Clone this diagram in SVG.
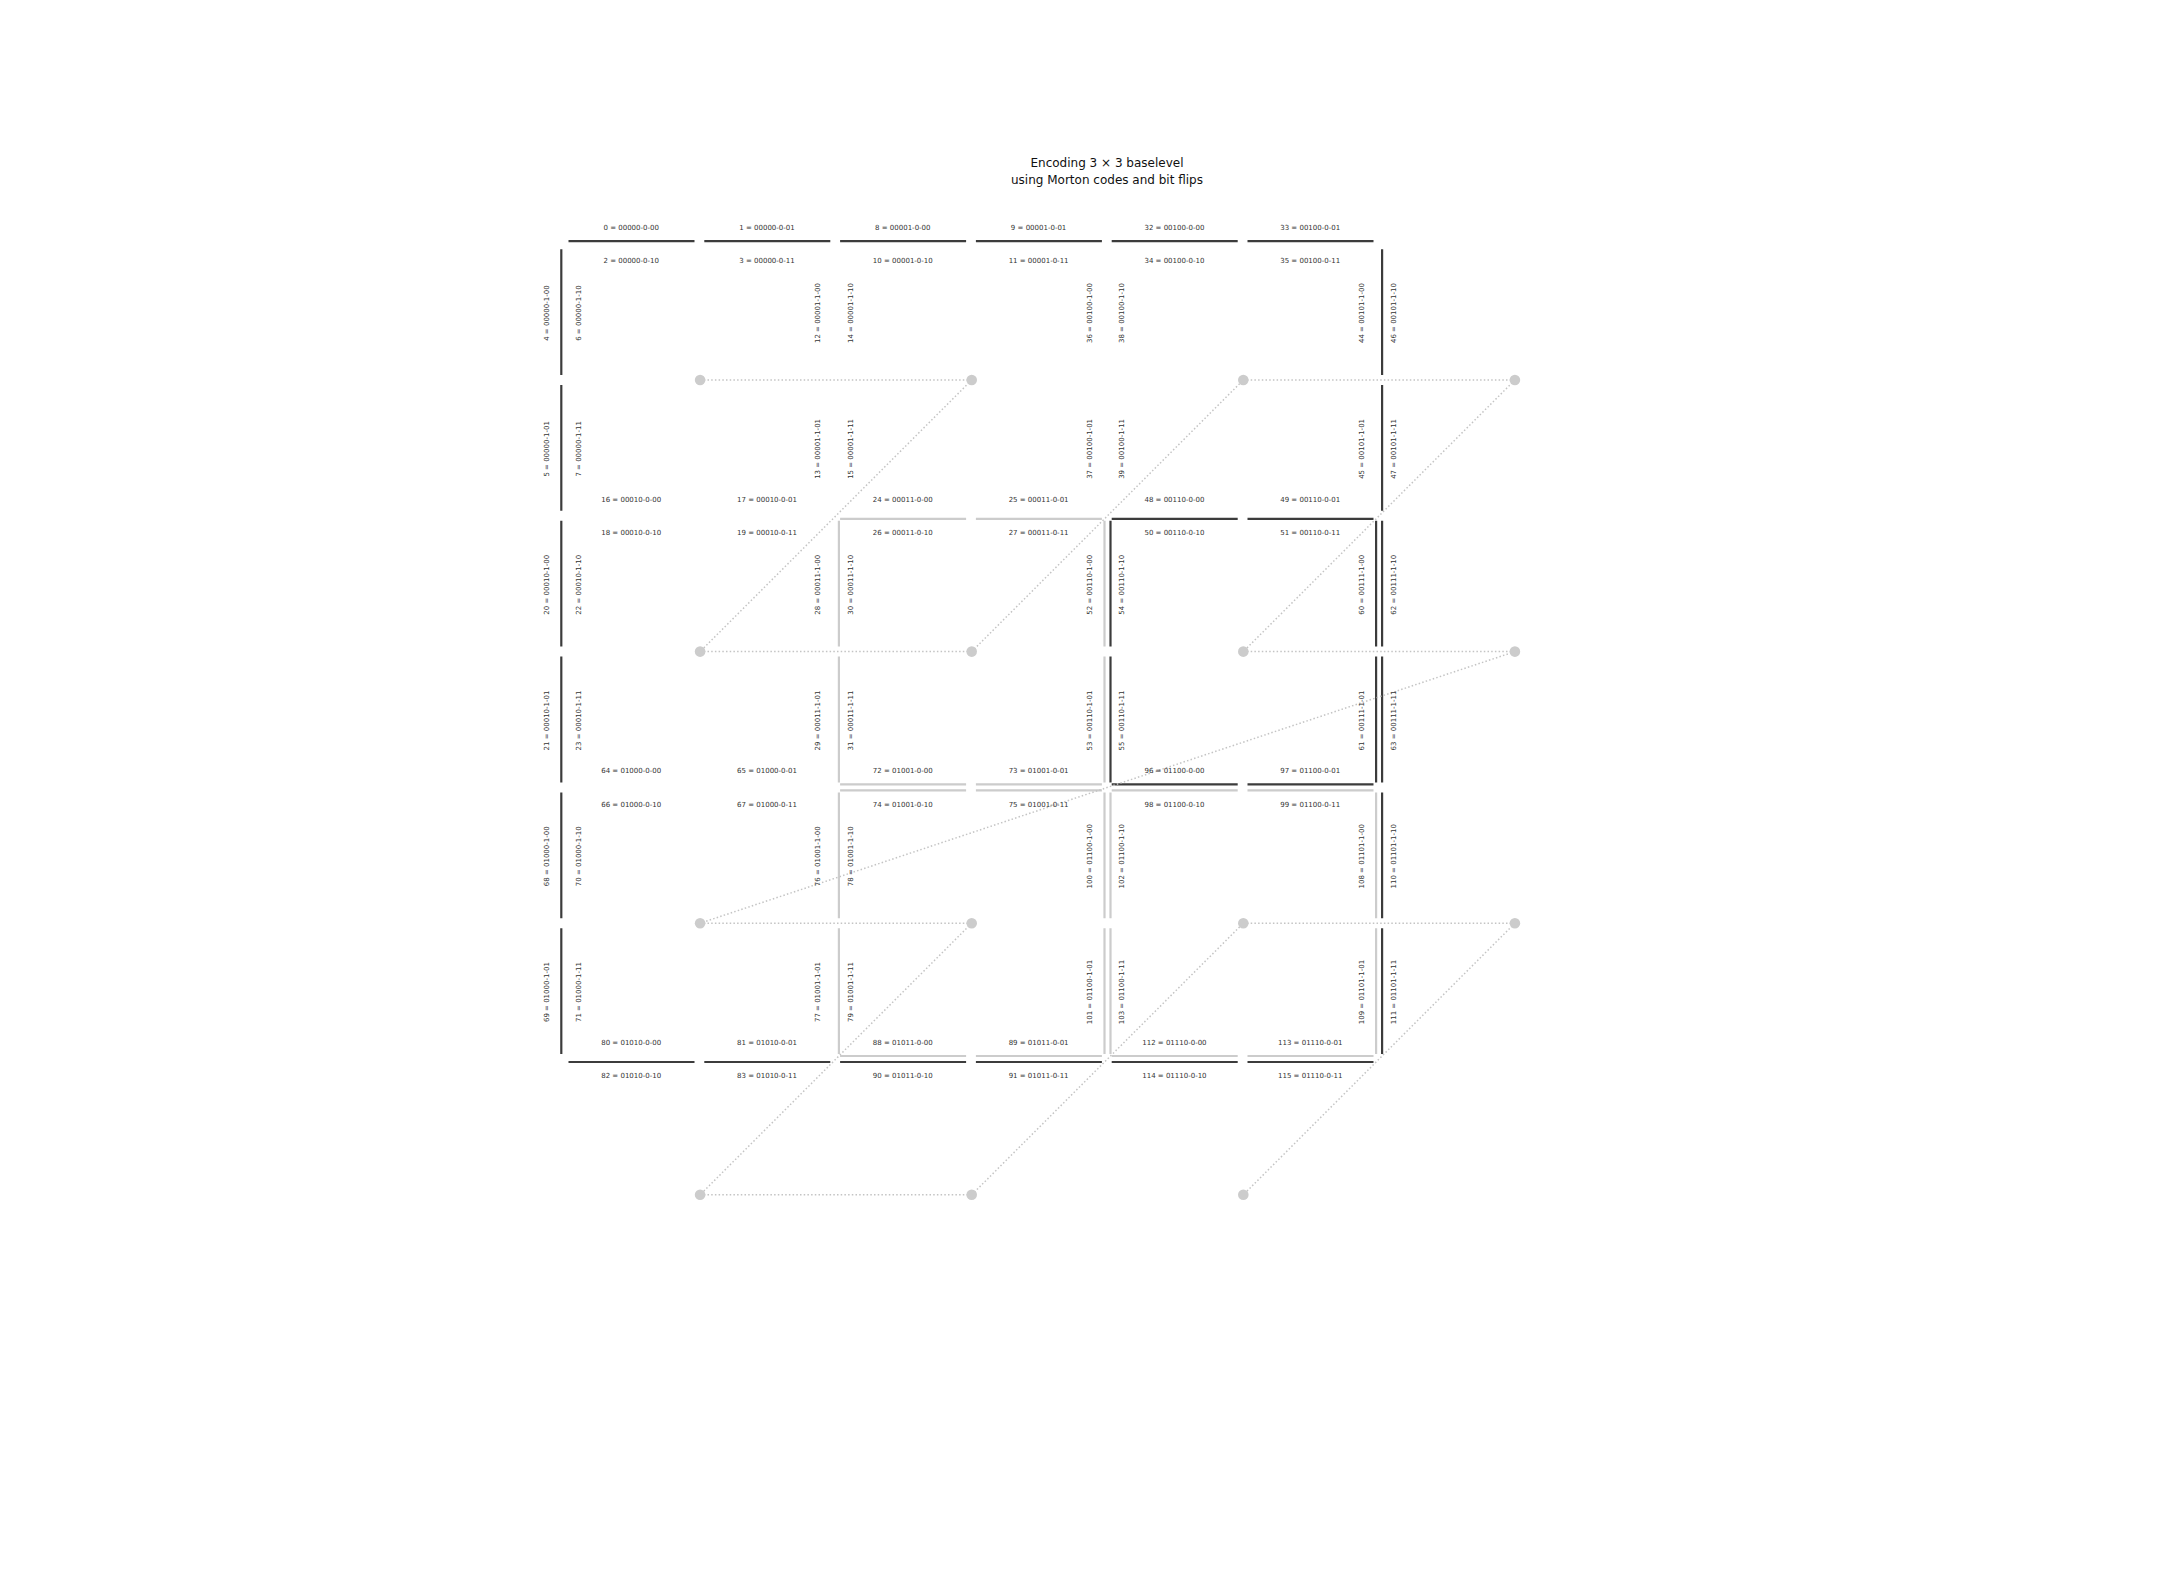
<svg xmlns="http://www.w3.org/2000/svg" width="2160" height="1584" viewBox="0 0 2160 1584">
<style>
.t{font-family:"DejaVu Sans",sans-serif;font-size:7px;fill:#333;text-anchor:middle}
.ti{font-family:"DejaVu Sans",sans-serif;font-size:12px;fill:#111;text-anchor:middle}
.dk{stroke:#3c3c3c;stroke-width:2.2;fill:none}
.lt{stroke:#cccccc;stroke-width:2.2;fill:none}
.cn{stroke:#c4c4c4;stroke-width:1.5;stroke-dasharray:1.5 2.2;fill:none}
.dot{fill:#cccccc}
</style>
<rect width="2160" height="1584" fill="#fff"/>
<g id="title">
<text class="ti" x="1107" y="167.3">Encoding 3 × 3 baselevel</text>
<text class="ti" x="1107" y="184.2">using Morton codes and bit flips</text>
</g>
<g id="edges">
<path class="lt" d="M840.1 518.8H966.1M975.9 518.8H1101.9M840.1 784.4H966.1M975.9 784.4H1101.9M840.1 790.4H966.1M975.9 790.4H1101.9M1111.7 790.4H1237.7M1247.5 790.4H1373.5M840.1 1056H966.1M975.9 1056H1101.9M1111.7 1056H1237.7M1247.5 1056H1373.5M838.9 520.8V646.6M838.9 656.6V782.4M838.9 792.4V918.2M838.9 928.2V1054M1104.5 520.8V646.6M1104.5 656.6V782.4M1104.5 792.4V918.2M1104.5 928.2V1054M1110.5 792.4V918.2M1110.5 928.2V1054M1376.1 792.4V918.2M1376.1 928.2V1054"/>
<path class="dk" d="M568.5 241.2H694.5M704.3 241.2H830.3M840.1 241.2H966.1M975.9 241.2H1101.9M1111.7 241.2H1237.7M1247.5 241.2H1373.5M568.5 1062H694.5M704.3 1062H830.3M840.1 1062H966.1M975.9 1062H1101.9M1111.7 1062H1237.7M1247.5 1062H1373.5M1111.7 518.8H1237.7M1247.5 518.8H1373.5M1111.7 784.4H1237.7M1247.5 784.4H1373.5M561.3 249.2V375M561.3 385V510.8M561.3 520.8V646.6M561.3 656.6V782.4M561.3 792.4V918.2M561.3 928.2V1054M1382.1 249.2V375M1382.1 385V510.8M1382.1 520.8V646.6M1382.1 656.6V782.4M1382.1 792.4V918.2M1382.1 928.2V1054M1110.5 520.8V646.6M1110.5 656.6V782.4M1376.1 520.8V646.6M1376.1 656.6V782.4"/>
</g>
<g id="connectors">
<line class="cn" x1="700.1" y1="380" x2="971.7" y2="380"/>
<line class="cn" x1="971.7" y1="380" x2="700.1" y2="651.6"/>
<line class="cn" x1="700.1" y1="651.6" x2="971.7" y2="651.6"/>
<line class="cn" x1="971.7" y1="651.6" x2="1243.3" y2="380"/>
<line class="cn" x1="1243.3" y1="380" x2="1514.9" y2="380"/>
<line class="cn" x1="1514.9" y1="380" x2="1243.3" y2="651.6"/>
<line class="cn" x1="1243.3" y1="651.6" x2="1514.9" y2="651.6"/>
<line class="cn" x1="1514.9" y1="651.6" x2="700.1" y2="923.2"/>
<line class="cn" x1="700.1" y1="923.2" x2="971.7" y2="923.2"/>
<line class="cn" x1="971.7" y1="923.2" x2="700.1" y2="1194.8"/>
<line class="cn" x1="700.1" y1="1194.8" x2="971.7" y2="1194.8"/>
<line class="cn" x1="971.7" y1="1194.8" x2="1243.3" y2="923.2"/>
<line class="cn" x1="1243.3" y1="923.2" x2="1514.9" y2="923.2"/>
<line class="cn" x1="1514.9" y1="923.2" x2="1243.3" y2="1194.8"/>
</g>
<g id="node-0"><circle class="dot" cx="700.1" cy="380" r="5.3"/></g>
<g id="node-1"><circle class="dot" cx="971.7" cy="380" r="5.3"/></g>
<g id="node-2"><circle class="dot" cx="700.1" cy="651.6" r="5.3"/></g>
<g id="node-3"><circle class="dot" cx="971.7" cy="651.6" r="5.3"/></g>
<g id="node-4"><circle class="dot" cx="1243.3" cy="380" r="5.3"/></g>
<g id="node-5"><circle class="dot" cx="1514.9" cy="380" r="5.3"/></g>
<g id="node-6"><circle class="dot" cx="1243.3" cy="651.6" r="5.3"/></g>
<g id="node-7"><circle class="dot" cx="1514.9" cy="651.6" r="5.3"/></g>
<g id="node-8"><circle class="dot" cx="700.1" cy="923.2" r="5.3"/></g>
<g id="node-9"><circle class="dot" cx="971.7" cy="923.2" r="5.3"/></g>
<g id="node-10"><circle class="dot" cx="700.1" cy="1194.8" r="5.3"/></g>
<g id="node-11"><circle class="dot" cx="971.7" cy="1194.8" r="5.3"/></g>
<g id="node-12"><circle class="dot" cx="1243.3" cy="923.2" r="5.3"/></g>
<g id="node-13"><circle class="dot" cx="1514.9" cy="923.2" r="5.3"/></g>
<g id="node-14"><circle class="dot" cx="1243.3" cy="1194.8" r="5.3"/></g>
<g id="cell-00000">
<text class="t" x="631.2" y="229.9">0 = 00000-0-00</text>
<text class="t" x="767" y="229.9">1 = 00000-0-01</text>
<text class="t" x="631.2" y="263.4">2 = 00000-0-10</text>
<text class="t" x="767" y="263.4">3 = 00000-0-11</text>
<text class="t" transform="translate(548.85 313.1) rotate(-90)">4 = 00000-1-00</text>
<text class="t" transform="translate(548.85 448.9) rotate(-90)">5 = 00000-1-01</text>
<text class="t" transform="translate(581.25 313.1) rotate(-90)">6 = 00000-1-10</text>
<text class="t" transform="translate(581.25 448.9) rotate(-90)">7 = 00000-1-11</text>
</g>
<g id="cell-00001">
<text class="t" x="902.8" y="229.9">8 = 00001-0-00</text>
<text class="t" x="1038.6" y="229.9">9 = 00001-0-01</text>
<text class="t" x="902.8" y="263.4">10 = 00001-0-10</text>
<text class="t" x="1038.6" y="263.4">11 = 00001-0-11</text>
<text class="t" transform="translate(820.45 313.1) rotate(-90)">12 = 00001-1-00</text>
<text class="t" transform="translate(820.45 448.9) rotate(-90)">13 = 00001-1-01</text>
<text class="t" transform="translate(852.85 313.1) rotate(-90)">14 = 00001-1-10</text>
<text class="t" transform="translate(852.85 448.9) rotate(-90)">15 = 00001-1-11</text>
</g>
<g id="cell-00010">
<text class="t" x="631.2" y="501.5">16 = 00010-0-00</text>
<text class="t" x="767" y="501.5">17 = 00010-0-01</text>
<text class="t" x="631.2" y="535">18 = 00010-0-10</text>
<text class="t" x="767" y="535">19 = 00010-0-11</text>
<text class="t" transform="translate(548.85 584.7) rotate(-90)">20 = 00010-1-00</text>
<text class="t" transform="translate(548.85 720.5) rotate(-90)">21 = 00010-1-01</text>
<text class="t" transform="translate(581.25 584.7) rotate(-90)">22 = 00010-1-10</text>
<text class="t" transform="translate(581.25 720.5) rotate(-90)">23 = 00010-1-11</text>
</g>
<g id="cell-00011">
<text class="t" x="902.8" y="501.5">24 = 00011-0-00</text>
<text class="t" x="1038.6" y="501.5">25 = 00011-0-01</text>
<text class="t" x="902.8" y="535">26 = 00011-0-10</text>
<text class="t" x="1038.6" y="535">27 = 00011-0-11</text>
<text class="t" transform="translate(820.45 584.7) rotate(-90)">28 = 00011-1-00</text>
<text class="t" transform="translate(820.45 720.5) rotate(-90)">29 = 00011-1-01</text>
<text class="t" transform="translate(852.85 584.7) rotate(-90)">30 = 00011-1-10</text>
<text class="t" transform="translate(852.85 720.5) rotate(-90)">31 = 00011-1-11</text>
</g>
<g id="cell-00100">
<text class="t" x="1174.4" y="229.9">32 = 00100-0-00</text>
<text class="t" x="1310.2" y="229.9">33 = 00100-0-01</text>
<text class="t" x="1174.4" y="263.4">34 = 00100-0-10</text>
<text class="t" x="1310.2" y="263.4">35 = 00100-0-11</text>
<text class="t" transform="translate(1092.05 313.1) rotate(-90)">36 = 00100-1-00</text>
<text class="t" transform="translate(1092.05 448.9) rotate(-90)">37 = 00100-1-01</text>
<text class="t" transform="translate(1124.45 313.1) rotate(-90)">38 = 00100-1-10</text>
<text class="t" transform="translate(1124.45 448.9) rotate(-90)">39 = 00100-1-11</text>
</g>
<g id="cell-00101">
<text class="t" transform="translate(1363.65 313.1) rotate(-90)">44 = 00101-1-00</text>
<text class="t" transform="translate(1363.65 448.9) rotate(-90)">45 = 00101-1-01</text>
<text class="t" transform="translate(1396.05 313.1) rotate(-90)">46 = 00101-1-10</text>
<text class="t" transform="translate(1396.05 448.9) rotate(-90)">47 = 00101-1-11</text>
</g>
<g id="cell-00110">
<text class="t" x="1174.4" y="501.5">48 = 00110-0-00</text>
<text class="t" x="1310.2" y="501.5">49 = 00110-0-01</text>
<text class="t" x="1174.4" y="535">50 = 00110-0-10</text>
<text class="t" x="1310.2" y="535">51 = 00110-0-11</text>
<text class="t" transform="translate(1092.05 584.7) rotate(-90)">52 = 00110-1-00</text>
<text class="t" transform="translate(1092.05 720.5) rotate(-90)">53 = 00110-1-01</text>
<text class="t" transform="translate(1124.45 584.7) rotate(-90)">54 = 00110-1-10</text>
<text class="t" transform="translate(1124.45 720.5) rotate(-90)">55 = 00110-1-11</text>
</g>
<g id="cell-00111">
<text class="t" transform="translate(1363.65 584.7) rotate(-90)">60 = 00111-1-00</text>
<text class="t" transform="translate(1363.65 720.5) rotate(-90)">61 = 00111-1-01</text>
<text class="t" transform="translate(1396.05 584.7) rotate(-90)">62 = 00111-1-10</text>
<text class="t" transform="translate(1396.05 720.5) rotate(-90)">63 = 00111-1-11</text>
</g>
<g id="cell-01000">
<text class="t" x="631.2" y="773.1">64 = 01000-0-00</text>
<text class="t" x="767" y="773.1">65 = 01000-0-01</text>
<text class="t" x="631.2" y="806.6">66 = 01000-0-10</text>
<text class="t" x="767" y="806.6">67 = 01000-0-11</text>
<text class="t" transform="translate(548.85 856.3) rotate(-90)">68 = 01000-1-00</text>
<text class="t" transform="translate(548.85 992.1) rotate(-90)">69 = 01000-1-01</text>
<text class="t" transform="translate(581.25 856.3) rotate(-90)">70 = 01000-1-10</text>
<text class="t" transform="translate(581.25 992.1) rotate(-90)">71 = 01000-1-11</text>
</g>
<g id="cell-01001">
<text class="t" x="902.8" y="773.1">72 = 01001-0-00</text>
<text class="t" x="1038.6" y="773.1">73 = 01001-0-01</text>
<text class="t" x="902.8" y="806.6">74 = 01001-0-10</text>
<text class="t" x="1038.6" y="806.6">75 = 01001-0-11</text>
<text class="t" transform="translate(820.45 856.3) rotate(-90)">76 = 01001-1-00</text>
<text class="t" transform="translate(820.45 992.1) rotate(-90)">77 = 01001-1-01</text>
<text class="t" transform="translate(852.85 856.3) rotate(-90)">78 = 01001-1-10</text>
<text class="t" transform="translate(852.85 992.1) rotate(-90)">79 = 01001-1-11</text>
</g>
<g id="cell-01010">
<text class="t" x="631.2" y="1044.7">80 = 01010-0-00</text>
<text class="t" x="767" y="1044.7">81 = 01010-0-01</text>
<text class="t" x="631.2" y="1078.2">82 = 01010-0-10</text>
<text class="t" x="767" y="1078.2">83 = 01010-0-11</text>
</g>
<g id="cell-01011">
<text class="t" x="902.8" y="1044.7">88 = 01011-0-00</text>
<text class="t" x="1038.6" y="1044.7">89 = 01011-0-01</text>
<text class="t" x="902.8" y="1078.2">90 = 01011-0-10</text>
<text class="t" x="1038.6" y="1078.2">91 = 01011-0-11</text>
</g>
<g id="cell-01100">
<text class="t" x="1174.4" y="773.1">96 = 01100-0-00</text>
<text class="t" x="1310.2" y="773.1">97 = 01100-0-01</text>
<text class="t" x="1174.4" y="806.6">98 = 01100-0-10</text>
<text class="t" x="1310.2" y="806.6">99 = 01100-0-11</text>
<text class="t" transform="translate(1092.05 856.3) rotate(-90)">100 = 01100-1-00</text>
<text class="t" transform="translate(1092.05 992.1) rotate(-90)">101 = 01100-1-01</text>
<text class="t" transform="translate(1124.45 856.3) rotate(-90)">102 = 01100-1-10</text>
<text class="t" transform="translate(1124.45 992.1) rotate(-90)">103 = 01100-1-11</text>
</g>
<g id="cell-01101">
<text class="t" transform="translate(1363.65 856.3) rotate(-90)">108 = 01101-1-00</text>
<text class="t" transform="translate(1363.65 992.1) rotate(-90)">109 = 01101-1-01</text>
<text class="t" transform="translate(1396.05 856.3) rotate(-90)">110 = 01101-1-10</text>
<text class="t" transform="translate(1396.05 992.1) rotate(-90)">111 = 01101-1-11</text>
</g>
<g id="cell-01110">
<text class="t" x="1174.4" y="1044.7">112 = 01110-0-00</text>
<text class="t" x="1310.2" y="1044.7">113 = 01110-0-01</text>
<text class="t" x="1174.4" y="1078.2">114 = 01110-0-10</text>
<text class="t" x="1310.2" y="1078.2">115 = 01110-0-11</text>
</g>
</svg>
